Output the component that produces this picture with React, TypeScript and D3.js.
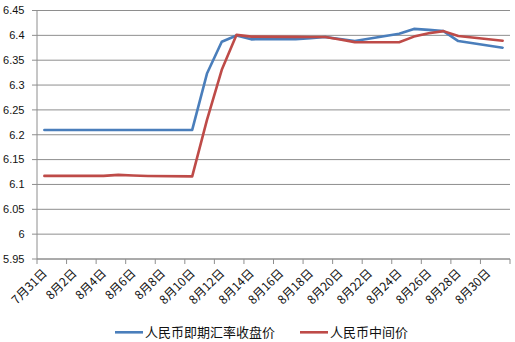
import React from "react";
import * as d3 from "d3";

const categories = [
  "7月31日", "8月1日", "8月2日", "8月3日", "8月4日", "8月5日", "8月6日", "8月7日",
  "8月8日", "8月9日", "8月10日", "8月11日", "8月12日", "8月13日", "8月14日", "8月15日",
  "8月16日", "8月17日", "8月18日", "8月19日", "8月20日", "8月21日", "8月22日", "8月23日",
  "8月24日", "8月25日", "8月26日", "8月27日", "8月28日", "8月29日", "8月30日", "8月31日",
];

const xTickLabels = [
  "7月31日", "8月2日", "8月4日", "8月6日", "8月8日", "8月10日", "8月12日", "8月14日",
  "8月16日", "8月18日", "8月20日", "8月22日", "8月24日", "8月26日", "8月28日", "8月30日",
];

const tradingDays = [
  "7月31日", "8月3日", "8月4日", "8月5日", "8月6日", "8月7日", "8月10日", "8月11日",
  "8月12日", "8月13日", "8月14日", "8月17日", "8月18日", "8月19日", "8月20日", "8月21日",
  "8月24日", "8月25日", "8月26日", "8月27日", "8月28日", "8月31日",
];

const spotClose = [
  6.2097, 6.2097, 6.2097, 6.2097, 6.2097, 6.2097, 6.2097, 6.3231,
  6.387, 6.3998, 6.392, 6.3925, 6.3945, 6.3966, 6.3925, 6.3885,
  6.4034, 6.413, 6.411, 6.4085, 6.3885, 6.3752,
];

const centralParity = [
  6.1172, 6.1172, 6.1172, 6.1192, 6.118, 6.1171, 6.1162, 6.2298,
  6.3306, 6.401, 6.3975, 6.3969, 6.3966, 6.3966, 6.3915, 6.3864,
  6.3862, 6.3975, 6.4043, 6.4085, 6.3986, 6.3893,
];

const yTicks = [5.95, 6.0, 6.05, 6.1, 6.15, 6.2, 6.25, 6.3, 6.35, 6.4, 6.45];

const seriesNames = ["人民币即期汇率收盘价", "人民币中间价"];
const seriesColors = ["#4a7ebb", "#be4b48"];

const W = 515;
const H = 342;
const left = 37;
const right = 510;
const top = 10.5;
const bottom = 259;

export default function App() {
  const x = d3.scaleBand<string>().domain(categories).range([left, right]).padding(0);
  const bw = x.bandwidth();
  const y = d3.scaleLinear().domain([5.95, 6.45]).range([bottom, top]);

  const line = d3
    .line<number>()
    .x((_, i) => (x(tradingDays[i]) as number) + bw / 2)
    .y((v) => y(v));

  const series = [spotClose, centralParity];
  const tickEdges = d3.range(0, categories.length + 1, 2).map((i) => left + i * bw);

  const fontNum = "'Liberation Sans', 'Noto Sans CJK SC', sans-serif";
  const fontCjk = "'Noto Sans CJK SC', 'Liberation Sans', sans-serif";

  return (
    <svg
      width={W}
      height={H}
      style={{ position: "absolute", left: 0, top: 0, background: "#fff" }}
    >
      {yTicks.map((t) => (
        <g key={t}>
          <line x1={left} x2={right} y1={y(t)} y2={y(t)} stroke="#8e8e8e" strokeWidth={1} />
          <line x1={left - 5} x2={left} y1={y(t)} y2={y(t)} stroke="#8e8e8e" strokeWidth={1} />
          <text
            x={24.5}
            y={y(t)}
            dy="0.35em"
            textAnchor="end"
            fontSize={11}
            fontFamily={fontNum}
            fill="#111"
          >
            {String(t)}
          </text>
        </g>
      ))}
      <line x1={left} x2={left} y1={top} y2={bottom} stroke="#8e8e8e" strokeWidth={1} />
      <line x1={left} x2={right} y1={bottom} y2={bottom} stroke="#8e8e8e" strokeWidth={1} />
      {tickEdges.map((tx, i) => (
        <line key={i} x1={tx} x2={tx} y1={bottom} y2={bottom + 5} stroke="#8e8e8e" strokeWidth={1} />
      ))}
      {xTickLabels.map((lab) => {
        const cx = (x(lab) as number) + bw / 2 + 0.5;
        return (
          <text
            key={lab}
            x={cx}
            y={271}
            dy="0.35em"
            textAnchor="end"
            fontSize={12}
            fontFamily={fontCjk}
            fill="#111"
            transform={`rotate(-45 ${cx} 271)`}
          >
            {lab}
          </text>
        );
      })}
      {series.map((s, k) => (
        <path
          key={k}
          d={line(s) || ""}
          fill="none"
          stroke={seriesColors[k]}
          strokeWidth={2.6}
          strokeLinejoin="round"
          strokeLinecap="round"
        />
      ))}
      {seriesNames.map((name, k) => {
        const lx = k === 0 ? 115 : 300;
        return (
          <g key={name}>
            <line x1={lx} x2={lx + 28} y1={332.3} y2={332.3} stroke={seriesColors[k]} strokeWidth={2.6} />
            <text
              x={lx + 30}
              y={332}
              dy="0.35em"
              fontSize={13}
              fontFamily={fontCjk}
              fill="#111"
            >
              {name}
            </text>
          </g>
        );
      })}
    </svg>
  );
}
